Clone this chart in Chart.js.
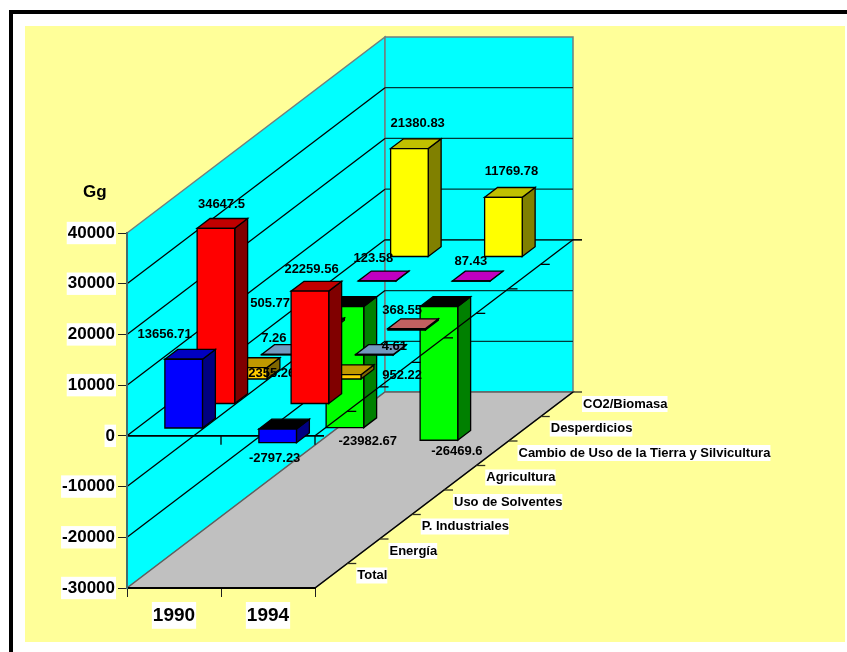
<!DOCTYPE html>
<html>
<head>
<meta charset="utf-8">
<style>html,body{margin:0;padding:0;background:#fff}canvas{display:block}</style>
<script src="https://cdn.jsdelivr.net/npm/chart.js@4/dist/chart.umd.js"></script>
</head>
<body>
<canvas id="c" width="847" height="652"></canvas>
<script>
const categories = ['1990', '1994'];
const seriesNames = ['Total', 'Energía', 'P. Industriales', 'Uso de Solventes', 'Agricultura',
  'Cambio de Uso de la Tierra y Silvicultura', 'Desperdicios', 'CO2/Biomasa'];
const total = [13656.71, -2797.23];
const energia = [34647.5, 22259.56];
const industriales = [2355.26, 952.22];
const solventes = [7.26, 4.61];
const agricultura = [505.77, 368.55];
const cambioUso = [-23982.67, -26469.6];
const desperdicios = [123.58, 87.43];
const biomasa = [21380.83, 11769.78];
const seriesValues = [total, energia, industriales, solventes, agricultura, cambioUso, desperdicios, biomasa];
const axisTitle = 'Gg';

// styles: front, top, side
const seriesColors = [
  ['#0000FF', '#0000C0', '#000080'],
  ['#FF0000', '#C00000', '#800000'],
  ['#FFCC00', '#C09900', '#806600'],
  ['#99CCFF', '#7399BF', '#4D6680'],
  ['#FF8080', '#C06060', '#804040'],
  ['#00FF00', '#00C000', '#008000'],
  ['#FF00FF', '#C000C0', '#800080'],
  ['#FFFF00', '#C0C000', '#808000']
];
// value label placement relative to the bar end
const labelOffsets = [
  [[-19, -25], [-3, 16]],
  [[5.5, -24], [1.6, -22]],
  [[23.6, 6], [60, 1]],
  [[-6.6, -17], [20, -8.3]],
  [[-42.5, -25], [-4.5, -18.6]],
  [[22.8, 14], [18, 11.5]],
  [[-3.8, -22.6], [-0.3, -19.4]],
  [[8.3, -25.6], [8, -26]]
];

const FONT = '"Liberation Sans", Arial, sans-serif';
const DEPTH_X = 258 / 8, DEPTH_Y = 196 / 8;
const BAR_DEPTH = 0.4;
const LINE = 1.3;

function poly(ctx, pts, fill, stroke, lw) {
  ctx.beginPath();
  pts.forEach((p, i) => i ? ctx.lineTo(p[0], p[1]) : ctx.moveTo(p[0], p[1]));
  ctx.closePath();
  if (fill) { ctx.fillStyle = fill; ctx.fill(); }
  if (stroke) { ctx.strokeStyle = stroke; ctx.lineWidth = lw || LINE; ctx.stroke(); }
}
function seg(ctx, x1, y1, x2, y2, color, lw) {
  ctx.beginPath(); ctx.moveTo(x1, y1); ctx.lineTo(x2, y2);
  ctx.strokeStyle = color || '#000'; ctx.lineWidth = lw || LINE; ctx.stroke();
}

class Box3DController extends Chart.BarController {
  draw() {
    const ctx = this.chart.ctx, s = this.index, meta = this._cachedMeta;
    const colors = seriesColors[s], values = this.getDataset().data;
    const depth = s + (1 - BAR_DEPTH) / 2;
    const ox = depth * DEPTH_X, oy = depth * DEPTH_Y;
    const dx = BAR_DEPTH * DEPTH_X, dy = BAR_DEPTH * DEPTH_Y;
    ctx.save();
    ctx.lineJoin = 'miter';
    meta.data.forEach((bar, i) => {
      const L = bar.x - bar.width / 2 + ox, R = L + bar.width;
      const T = Math.min(bar.y, bar.base) - oy, B = Math.max(bar.y, bar.base) - oy;
      poly(ctx, [[R, B], [R + dx, B - dy], [R + dx, T - dy], [R, T]], colors[2], '#000');
      poly(ctx, [[L, T], [L + dx, T - dy], [R + dx, T - dy], [R, T]], values[i] < 0 ? '#000' : colors[1], '#000');
      poly(ctx, [[L, T], [R, T], [R, B], [L, B]], colors[0], '#000');
    });
    ctx.font = 'bold 13px ' + FONT;
    ctx.textAlign = 'center';
    ctx.textBaseline = 'middle';
    ctx.fillStyle = '#000';
    meta.data.forEach((bar, i) => {
      const off = labelOffsets[s][i];
      ctx.fillText(String(values[i]), bar.x + ox + off[0], bar.y - oy + off[1]);
    });
    ctx.restore();
  }
}
Box3DController.id = 'box3d';
Box3DController.defaults = Object.assign({}, Chart.BarController.defaults, { grouped: false });
Box3DController.overrides = Chart.BarController.overrides;
Chart.register(Box3DController);

const scene = {
  id: 'scene',
  beforeDraw(chart) {
    const ctx = chart.ctx, xs = chart.scales.x, ys = chart.scales.y;
    const L = xs.left, R = xs.right, n = seriesNames.length;
    const BX = n * DEPTH_X, BY = n * DEPTH_Y;
    const Yt = ys.getPixelForValue(ys.max), Yb = ys.getPixelForValue(ys.min), Y0 = ys.getPixelForValue(0);
    ctx.save();
    ctx.fillStyle = '#fff'; ctx.fillRect(0, 0, chart.width, chart.height);
    ctx.fillStyle = '#000';
    ctx.fillRect(9, 10, chart.width - 9, 4);
    ctx.fillRect(9, 10, 4, chart.height - 10);
    ctx.fillStyle = '#FFFF99'; ctx.fillRect(25, 26, 820, 616);
    // walls and floor
    poly(ctx, [[L, Yt], [L + BX, Yt - BY], [L + BX, Yb - BY], [L, Yb]], '#00FFFF', '#708080', 1.5);
    poly(ctx, [[L + BX, Yt - BY], [R + BX, Yt - BY], [R + BX, Yb - BY], [L + BX, Yb - BY]], '#00FFFF', '#708080', 1.5);
    ys.ticks.forEach(t => {
      const y = ys.getPixelForValue(t.value);
      if (t.value === ys.max || t.value === ys.min) return;
      seg(ctx, L, y, L + BX, y - BY, '#000');
      seg(ctx, L + BX, y - BY, R + BX, y - BY, '#003838', t.value === 0 ? 1.6 : 1.3);
    });
    poly(ctx, [[L, Yb], [L + BX, Yb - BY], [R + BX, Yb - BY], [R, Yb]], '#C0C0C0', '#606060', 1.5);
    // outer floor edge with its depth ticks and labels
    seg(ctx, R, Yb, R + BX, Yb - BY, '#000');
    ctx.font = 'bold 13px ' + FONT;
    ctx.textBaseline = 'middle';
    ctx.textAlign = 'left';
    seriesNames.forEach((name, i) => {
      const s = i + 1, x = R + s * DEPTH_X, y = Yb - s * DEPTH_Y;
      seg(ctx, x, y, x + 9, y, '#303020');
      const w = ctx.measureText(name).width;
      ctx.fillStyle = '#fff';
      ctx.fillRect(x + 9, y + 4, w + 1, 16);
      ctx.fillStyle = '#000';
      ctx.fillText(name, x + 10, y + 12);
    });
    // front line of the zero plane
    seg(ctx, L, Y0, R + 9, Y0, '#000', 1.6);
    [0, 1, 2].forEach(k => {
      const x = L + k * (R - L) / 2;
      seg(ctx, x, Y0, x, Y0 + 9, '#000');
    });
    // axis title
    ctx.fillStyle = '#000';
    ctx.font = 'bold 17px ' + FONT;
    ctx.textAlign = 'left';
    ctx.fillText(axisTitle, 83, 192);
    ctx.restore();
  },
  afterDatasetsDraw(chart) {
    const ctx = chart.ctx, xs = chart.scales.x, ys = chart.scales.y;
    const R = xs.right, n = seriesNames.length, Y0 = ys.getPixelForValue(0);
    ctx.save();
    seg(ctx, R, Y0, R + n * DEPTH_X, Y0 - n * DEPTH_Y, '#000');
    for (let s = 1; s <= n; s++) {
      const x = R + s * DEPTH_X, y = Y0 - s * DEPTH_Y;
      seg(ctx, x, y, x + 9, y, '#000', s === n ? 1.6 : 1.3);
    }
    ctx.restore();
  }
};

new Chart(document.getElementById('c'), {
  type: 'box3d',
  plugins: [scene],
  data: {
    labels: categories,
    datasets: seriesNames.map((name, i) => ({
      label: name,
      data: seriesValues[i],
      clip: false,
      barPercentage: 0.4,
      categoryPercentage: 1
    }))
  },
  options: {
    responsive: false,
    animation: false,
    layout: { padding: { top: 233, right: 532, bottom: 0, left: 0 } },
    plugins: { legend: { display: false }, title: { display: false }, tooltip: { enabled: false } },
    scales: {
      x: {
        type: 'category',
        offset: true,
        afterFit(scale) { scale.height = 64; },
        border: { color: '#000', width: 2 },
        grid: { offset: true, drawOnChartArea: false, drawTicks: true, tickLength: 9, color: '#202020', lineWidth: 1 },
        ticks: {
          color: '#000', padding: 7, maxRotation: 0,
          font: { family: FONT, size: 19, weight: 'bold' },
          showLabelBackdrop: true, backdropColor: '#fff', backdropPadding: { x: 1, y: 2 }
        }
      },
      y: {
        type: 'linear',
        min: -30000, max: 40000,
        afterFit(scale) { scale.width = 127; },
        border: { color: '#407070', width: 2 },
        grid: { drawOnChartArea: false, drawTicks: true, tickLength: 9, color: '#202020', lineWidth: 1 },
        ticks: {
          stepSize: 10000, color: '#000', padding: 3,
          callback: v => String(v),
          font: { family: FONT, size: 17, weight: 'bold' },
          showLabelBackdrop: true, backdropColor: '#fff', backdropPadding: { x: 1, y: 1 }
        }
      }
    }
  }
});
</script>
</body>
</html>
